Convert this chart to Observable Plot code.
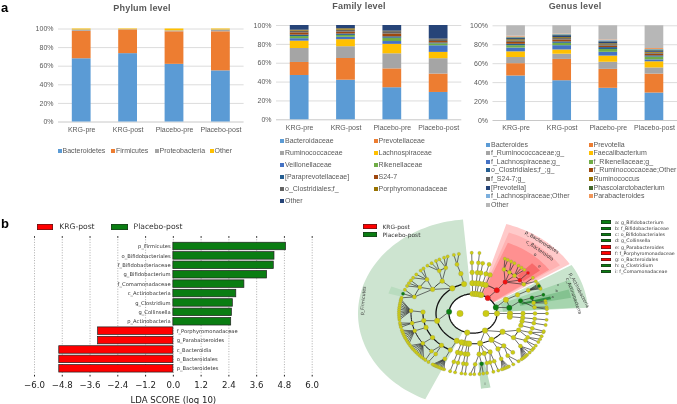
<!DOCTYPE html>
<html><head><meta charset="utf-8">
<script src="https://cdn.jsdelivr.net/npm/d3@7"></script>
<script src="https://cdn.jsdelivr.net/npm/@observablehq/plot@0.6"></script>
<style>
html,body{margin:0;padding:0;background:#fff}
#page{position:relative;width:677px;height:404px;overflow:hidden;background:#fff;filter:blur(.35px)}
.abs{position:absolute}
.panel svg{display:block;background:transparent}
.title{position:absolute;font:bold 9px "Liberation Sans";color:#595959;transform:translate(-50%,-50%);white-space:nowrap;letter-spacing:.2px}
.tag{position:absolute;font:bold 13px "Liberation Sans";color:#000;line-height:13px}
.xl{position:absolute;display:grid;font:7px "Liberation Sans";color:#595959;align-items:center;white-space:nowrap}
.xl i{display:inline-block;width:4px;height:4px;margin-right:1px;vertical-align:0}
.ml{position:absolute;display:grid;align-items:center;white-space:nowrap;font-family:"DejaVu Sans";color:#333}
.ml i{display:inline-block;box-shadow:inset 0 0 0 .5px #222;vertical-align:-1px}
</style></head><body><div id="page"></div>
<script>
// ---- panel a data ----
const groups = ["KRG-pre","KRG-post","Placebo-pre","Placebo-post"];

const phylumNames  = ["Bacteroidetes","Firmicutes","Proteobacteria","Other"];
const phylumColors = ["#5B9BD5","#ED7D31","#A5A5A5","#FFC000"];
const phylumKRGpre  = [68,29.5,1.5,1];
const phylumKRGpost = [73.5,25.5,0.3,0.7];
const phylumPlaPre  = [62,35,1,2];
const phylumPlaPost = [55,42,2,1];

const familyNames  = ["Bacteroidaceae","Prevotellaceae","Ruminococcaceae","Lachnospiraceae","Veillonellaceae","Rikenellaceae","[Paraprevotellaceae]","S24-7","o_Clostridiales;f_","Porphyromonadaceae","Other"];
const familyColors = ["#5B9BD5","#ED7D31","#A5A5A5","#FFC000","#4472C4","#70AD47","#255E91","#9E480E","#636363","#997300","#264478"];
const familyKRGpre  = [47,13.8,14.8,7.8,2.6,2.3,1.5,2.4,1.8,1,5];
const familyKRGpost = [42,23,12.5,7.5,2.5,2,1.5,2,2,1.5,3.5];
const familyPlaPre  = [34,20,16,10,3,3.5,1.5,3,2.5,.5,6];
const familyPlaPost = [29,19.5,16.3,6.7,7,2,1,1.5,2,.5,14.5];

const genusNames  = ["Bacteroides","Prevotella","f_Ruminococcaceae;g_","Faecalibacterium","f_Lachnospiraceae;g_","f_Rikenellaceae;g_","o_Clostridiales;f_;g_","f_Ruminococcaceae;Other","f_S24-7;g_","Ruminococcus","[Prevotella]","Phascolarctobacterium","f_Lachnospiraceae;Other","Parabacteroides","Other"];
const genusColors = ["#5B9BD5","#ED7D31","#A5A5A5","#FFC000","#4472C4","#70AD47","#255E91","#9E480E","#636363","#997300","#264478","#43682B","#7CAFDD","#F1975A","#B7B7B7"];
const genusKRGpre  = [47,13,6.5,6,4,2.5,1.5,2,1.5,1.3,1.2,.8,.7,1,11];
const genusKRGpost = [42,22.5,5.5,4.5,4.5,2.5,1.5,2,1.5,1,2,.8,.5,.5,8.7];
const genusPlaPre  = [34,20,7.5,6.5,4,3,2,1.5,1.5,1,2,.3,1,.7,15];
const genusPlaPost = [29,20,6.5,6.5,2,3,1.3,1.7,1,1,1.5,1,.5,1,24];

// ---- panel b data ----
const ldaNames  = ["p_Firmicutes","o_Bifidobacteriales","f_Bifidobacteriaceae","g_Bifidobacterium","f_Comamonadaceae","c_Actinobacteria","g_Clostridium","g_Collinsella","p_Actinobacteria","f_Porphyromonadaceae","g_Parabacteroides","c_Bacteroidia","o_Bacteroidales","p_Bacteroidetes"];
const ldaValues = [4.87,4.37,4.34,4.05,3.07,2.72,2.57,2.53,2.5,-3.25,-3.25,-4.93,-4.93,-4.93];
const ldaTicks  = [-6,-4.8,-3.6,-2.4,-1.2,0,1.2,2.4,3.6,4.8,6];
const krgColor = "#ff0000", placeboColor = "#0a7d12";

// ---- cladogram data: levels are ring radii, angles are degrees clockwise from the top ----
const ringRadius = [13,24,37,50,62,74];
const sectorRows = [ // from, to, inner radius, outer radius, colour
  [204.5,355,24,115,"#cde4d0"],[286,292,74,88,"#b9dcbf"],[169,175,60,92,"#bcdcc2"],
  [17,58,25,114,"#ffcaca"],[20,56,25,105,"#ffb2b2"],[22,55,25,93,"#ff9090"],[44,52,64,85,"#f86a6a"],
  [59,86.5,25,115,"#c9e4cd"],[67,86,30,105,"#a6d5ae"],[73,79,48,100,"#84c290"],[75,77.5,50,80,"#2e8b3d"]
];
const arcRows = [ // ring, from, to, width
  [1,0,360,1.3],[2,206,346,1.3],[3,207,272,1.2],[4,222,273,1],[3,306,322,.8],[4,289,312,.7],[4,327,334,.7],
  [2,359,38,.9],[2,127,198,1.1],[3,114,126,.9],[3,142,150,.8],[4,30,55,.8],[3,160,173,.8],[2,63,79,.7],[4,72,83,.6]
];
const branchRows = [ // parent ring, parent angle, child ring, child angles
  [1,275,2,[256]],[2,256,3,[260]],[3,260,4,[259]],[4,259,5,[259,257,261]],[3,272,4,[273]],[3,250,4,[250]],[3,234,4,[234]],
  [4,273,5,[264,266,268,270,272,274,276,278,280,282,283.5]],
  [4,250,5,[240,242,244,246,248,250,252,254]],
  [4,234,5,[222,224,226,228,230,232,234,236,238]],
  [3,219,4,[222,217]],[4,222,5,[220]],[4,217,5,[217]],
  [2,206,3,[207]],[3,207,4,[207]],[4,207,5,[203,204.5,206,207.5,209,210,211,212,213]],
  [2,326,3,[322,306]],[2,346,3,[346]],[3,346,4,[345]],[4,345,5,[345,349]],
  [3,322,4,[327,334]],[4,327,5,[326,322,330]],[4,334,5,[333,340,337]],
  [3,306,4,[312,301,289]],[4,312,5,[310,306,315,318]],[4,301,5,[297,300,303]],[4,289,5,[289,293,285]],
  [1,150,2,[127,150,169]],[2,127,3,[114,126]],
  [3,114,4,[112,118]],[4,112,5,[108,112]],[4,118,5,[115,118]],
  [3,126,4,[122,130]],[4,122,5,[122,125]],[4,130,5,[127,130,133,134.5,136,137.5,139]],
  [2,150,3,[142,150]],[3,142,4,[140,146]],[4,146,5,[142,147]],[3,150,4,[153]],[4,153,5,[151,152.5,154,155.5,157]],
  [2,169,3,[160,173,167]],[3,160,4,[160,164]],[4,160,5,[160]],[4,164,5,[164]],[3,173,4,[172,178]],[3,167,4,[167]],[4,167,5,[169]],[4,172,5,[172,175]],[4,178,5,[179,182]],
  [1,194,2,[194]],
  [1,38,2,[40]],[2,40,3,[40]],[3,40,4,[30,36,42,49,55]],[4,30,5,[25.5,28]],[4,36,5,[31,34]],[4,42,5,[38,41,44]],[4,49,5,[48]],[4,55,5,[54,58]],
  [1,72,2,[63,79]],[2,79,3,[72]],[3,72,4,[72]],[4,72,5,[72]],[4,72,4,[78]],[4,78,5,[78,80]],[3,72,4,[83]],[4,83,5,[84,86]],
  [2,63,3,[63]],[3,63,4,[63]],[4,63,5,[61,62,63,64,65,66]]
];
const spokeRows = [ // angle, first ring, last ring
  [359,1,5],[5,1,5],[9,1,4],[15,1,4],[20,1,3],[90,0,5],[96,2,5],[101,3,5],[107,3,5],[198,2,5],[194,2,5],[189,2,5],[186,2,5]
];
const redNodes   = [[1,38],[2,40],[3,40],[4,49],[5,48]];
const greenNodes = [[1,275],[1,72],[2,79],[3,72],[4,72],[5,72],[5,63],[4,172],[5,289]];
const cladoLabels = [ // angle, radius, text, rotation, size
  [278,111,"p_Firmicutes",-85,4.6],[38.4,111,"p_Bacteroidetes",32,4.8],[41,102,"c_Bacteroidia",35,4.8],
  [41,95,"o",35,4.5],[49,88,"e",38,4],[75,110,"p_Actinobacteria",63,4.6],[78,103,"c_Actinobacteria",70,4.6],
  [72,88,"b",0,3.6],[76,82,"a",0,3.6],[172,87,"i",0,3.6],[68,92,"c",0,3.6]
];
const cladoKey = [["a: g_Bifidobacterium",placeboColor],["b: f_Bifidobacteriaceae",placeboColor],["c: o_Bifidobacteriales",placeboColor],["d: g_Collinsella",placeboColor],["e: g_Parabacteroides",krgColor],["f: f_Porphyromonadaceae",krgColor],["g: o_Bacteroidales",krgColor],["h: g_Clostridium",placeboColor],["i: f_Comamonadaceae",placeboColor]];

// ---- helpers ----
const page = document.getElementById("page");
function place(node,left,top){const d=document.createElement("div");d.className="abs panel";d.style.left=left+"px";d.style.top=top+"px";d.appendChild(node);page.appendChild(d);return d;}
function html(cls,css,inner){const d=document.createElement("div");d.className=cls;d.style.cssText=css;if(inner!==undefined)d.innerHTML=inner;page.appendChild(d);return d;}

function stacked(names,colors,rows,frame){
  const data=[];
  rows.forEach((vals,g)=>vals.forEach((v,s)=>data.push({group:groups[g],name:names[s],color:colors[s],value:v,order:s})));
  return Plot.plot({
    width:frame.w,height:frame.h,marginLeft:frame.l,marginRight:frame.r,marginTop:frame.t,marginBottom:frame.b,
    style:{fontFamily:"Liberation Sans",fontSize:"7px",color:"#595959",background:"transparent"},
    x:{domain:groups,paddingInner:.595,paddingOuter:.2975,round:false,axis:null},
    y:{domain:[0,100],axis:null},
    color:{domain:names,range:colors},
    marks:[
      Plot.ruleY([20,40,60,80,100],{stroke:"#dcdcdc",strokeWidth:1}),
      Plot.ruleY([0],{stroke:"#c8c8c8",strokeWidth:1}),
      Plot.barY(data,{x:"group",y:"value",fill:"name",order:null}),
      Plot.axisY({ticks:[0,20,40,60,80,100],tickFormat:d=>d+"%",tickSize:0,tickPadding:frame.pad,label:null}),
      Plot.axisX({domain:groups,tickSize:0,tickPadding:frame.padx,label:null})
    ]
  });
}
function excelLegend(names,colors,css,cols){
  const cells=names.map((n,i)=>`<div><i style="background:${colors[i]}"></i>${n}</div>`).join("");
  html("xl",css+";grid-template-columns:"+cols,cells);
}

// ---- panel a ----
html("tag","left:1px;top:1px","a");
html("title","left:142px;top:8px","Phylum level");
html("title","left:359px;top:6px","Family level");
html("title","left:575px;top:6px","Genus level");

place(stacked(phylumNames,phylumColors,[phylumKRGpre,phylumKRGpost,phylumPlaPre,phylumPlaPost],
  {w:246,h:140,l:58,r:2.4,t:28.5,b:18.5,pad:5,padx:5}),0,0);
place(stacked(familyNames,familyColors,[familyKRGpre,familyKRGpost,familyPlaPre,familyPlaPost],
  {w:221,h:136,l:28,r:7.7,t:25,b:16.7,pad:5,padx:5}),248,0);
place(stacked(genusNames,genusColors,[genusKRGpre,genusKRGpost,genusPlaPre,genusPlaPost],
  {w:208,h:136,l:23.5,r:0,t:25.3,b:16,pad:5,padx:4.5}),469,0);

excelLegend(phylumNames,phylumColors,"left:57.5px;top:145px;grid-auto-rows:10px","53.5px 43.5px 55px 30px");
excelLegend(familyNames,familyColors,"left:280px;top:134.7px;grid-auto-rows:12px","93.5px 90px");
excelLegend(genusNames,genusColors,"left:486px;top:139.7px;grid-auto-rows:8.67px","102.5px 90px");

// ---- panel b ----
html("tag","left:1px;top:217px","b");
html("ml","left:36.7px;top:222px;grid-template-columns:74.3px 90px;font-size:7.6px;grid-auto-rows:8px",
  `<div><i style="width:16.6px;height:6px;background:${krgColor};margin-right:6px"></i>KRG-post</div><div><i style="width:16.6px;height:6px;background:${placeboColor};margin-right:6px"></i>Placebo-post</div>`);
const ldaData = ldaNames.map((n,i)=>({name:n,value:ldaValues[i]}));
place(Plot.plot({
  width:320,height:199,marginLeft:34,marginRight:8.3,marginTop:31.7,marginBottom:29,
  style:{fontFamily:"DejaVu Sans",fontSize:"8.6px",color:"#222",background:"transparent"},
  x:{domain:[-6,6],axis:null},
  y:{domain:ldaNames,range:[36.3,168],paddingInner:.2,paddingOuter:.1,round:false,axis:null},
  marks:[
    Plot.ruleX(ldaTicks,{stroke:"#777",strokeWidth:.6,strokeDasharray:"1,1.6"}),
    Plot.barX(ldaData,{y:"name",x:"value",fill:d=>d.value>0?placeboColor:krgColor,stroke:"#222",strokeWidth:.7}),
    Plot.text(ldaData,{y:"name",x:0,text:"name",textAnchor:"end",filter:d=>d.value>0,dx:-2.7,fontSize:5.2,fill:"#333"}),
    Plot.text(ldaData,{y:"name",x:0,text:"name",textAnchor:"start",filter:d=>d.value<0,dx:3.3,fontSize:5.2,fill:"#333"}),
    Plot.axisX({anchor:"bottom",ticks:ldaTicks,tickSize:1.5,tickPadding:5,tickFormat:d=>(d<0?"\u2212":"")+Math.abs(d).toFixed(1),label:"LDA SCORE (log 10)",labelAnchor:"center",labelArrow:"none",labelOffset:27}),
    Plot.axisX({anchor:"top",ticks:ldaTicks,tickSize:1.5,tickFormat:()=>"",label:null})
  ]
}),0,205);

// ---- cladogram ----
const deg=Math.PI/180;
const polar=(a,r)=>({x:r*Math.sin(a*deg),y:r*Math.cos(a*deg)});
function sectorPath([a0,a1,r0,r1]){
  const n=Math.ceil((a1-a0)/2),pts=[];
  for(let i=0;i<=n;i++)pts.push(polar(a0+(a1-a0)*i/n,r1));
  for(let i=n;i>=0;i--)pts.push(polar(a0+(a1-a0)*i/n,r0));
  return pts;
}
function arcPath([ring,a0,a1]){
  const end=a1<a0?a1+360:a1,n=Math.ceil((end-a0)/2),pts=[];
  for(let i=0;i<=n;i++)pts.push(polar(a0+(end-a0)*i/n,ringRadius[ring]));
  return pts;
}
const links=[],nodeMap=new Map();
const addNode=(l,a)=>nodeMap.set(l+":"+a,{l,a,...polar(a,ringRadius[l])});
branchRows.forEach(([pl,pa,cl,cas])=>cas.forEach(ca=>{
  const p=polar(pa,ringRadius[pl]),c=polar(ca,ringRadius[cl]);
  links.push({x1:p.x,y1:p.y,x2:c.x,y2:c.y});addNode(pl,pa);addNode(cl,ca);
}));
spokeRows.forEach(([a,l0,l1])=>{
  const p=polar(a,ringRadius[l0]),c=polar(a,ringRadius[l1]);
  links.push({x1:p.x,y1:p.y,x2:c.x,y2:c.y});
  for(let l=l0;l<=l1;l++)addNode(l,a);
});
addNode(0,270);
const isIn=(list,n)=>list.some(([l,a])=>l===n.l&&a===n.a);
const nodes=[...nodeMap.values()];
const yellow=nodes.filter(n=>!isIn(redNodes,n)&&!isIn(greenNodes,n));
const red=nodes.filter(n=>isIn(redNodes,n));
const green=nodes.filter(n=>isIn(greenNodes,n));
const nodeR=[3.2,2.8,2.8,2.4,2.1,1.7];
const dots=(arr,fill)=>Plot.dot(arr,{x:"x",y:"y",r:d=>nodeR[d.l],fill,stroke:"#777",strokeWidth:.2});
const lblPts=cladoLabels.map(([a,r,text,rot,size])=>({...polar(a,r),text,rot,size}));

place(Plot.plot({
  width:280,height:199,margin:0,
  style:{fontFamily:"DejaVu Sans",background:"transparent"},
  x:{domain:[-152.5,127.5],axis:null},
  y:{domain:[-111,131.7],axis:null},
  r:{type:"identity"},
  marks:[
    ...sectorRows.map(s=>Plot.line(sectorPath(s),{x:"x",y:"y",fill:s[4],stroke:"none"})),
    Plot.link(links,{x1:"x1",y1:"y1",x2:"x2",y2:"y2",stroke:"#333",strokeWidth:.7}),
    ...arcRows.map(a=>Plot.line(arcPath(a),{x:"x",y:"y",stroke:"#111",strokeWidth:a[3],curve:"linear"})),
    dots(yellow,"#cccc14"),dots(red,"#f01010"),dots(green,"#0a7d12"),
    ...lblPts.map(d=>Plot.text([d],{x:"x",y:"y",text:"text",rotate:d.rot,fontSize:d.size,fill:"#333"}))
  ]
}),320,205);

// cladogram legends
html("ml","left:363px;top:222.5px;font-size:5.9px;grid-auto-rows:8px",
  `<div><i style="width:14px;height:4.4px;background:${krgColor};margin-right:5.5px;vertical-align:0"></i>KRG-post</div><div><i style="width:14px;height:4.4px;background:${placeboColor};margin-right:5.5px;vertical-align:0"></i>Placebo-post</div>`);
html("ml","left:601px;top:219.2px;font-size:4.7px;grid-auto-rows:6.2px",
  cladoKey.map(([t,c])=>`<div><i style="width:10px;height:3.3px;background:${c};margin-right:4px;vertical-align:0"></i>${t}</div>`).join(""));
</script></body></html>
